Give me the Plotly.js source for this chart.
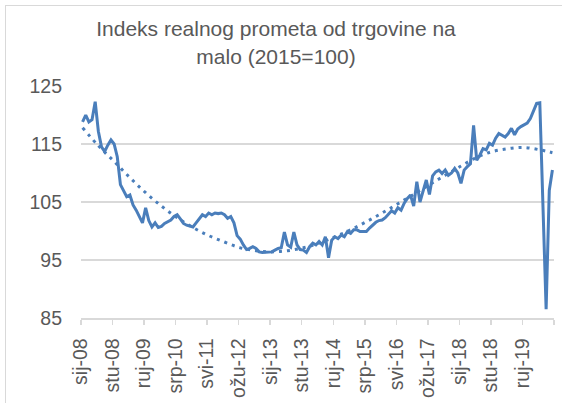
<!DOCTYPE html>
<html>
<head>
<meta charset="utf-8">
<script src="https://cdn.plot.ly/plotly-3.0.1.min.js"></script>
<style>
html,body{margin:0;padding:0;background:#fff;}
#wrap{position:relative;width:562px;height:403px;overflow:hidden;}
#chart{width:562px;height:403px;}
#frame{position:absolute;left:5px;top:5px;width:620px;height:460px;border:1px solid #d9d9d9;pointer-events:none;}
</style>
</head>
<body>
<div id="wrap"><div id="chart"></div><div id="frame"></div></div>
<script>
// Monthly index of real retail trade turnover, Jan 2008 - Jun 2020 (2015=100)
const values = [
  // 2008
  118.8, 120.0, 118.8, 119.2, 122.3, 117.2, 114.5, 113.7, 114.8, 115.7, 115.0, 112.8,
  // 2009
  108.0, 106.8, 105.9, 106.2, 104.5, 103.6, 102.5, 101.4, 104.0, 101.8, 100.7, 101.4,
  // 2010
  100.6, 100.8, 101.3, 101.6, 101.9, 102.5, 102.8, 102.1, 101.3, 101.0, 100.8, 100.7,
  // 2011
  101.4, 102.2, 102.8, 102.5, 103.1, 102.8, 103.1, 103.0, 103.1, 102.8, 102.2, 102.5,
  // 2012
  101.4, 99.2, 98.6, 97.6, 96.8, 97.0, 97.3, 97.0, 96.4, 96.3, 96.3, 96.4,
  // 2013
  96.4, 96.7, 97.0, 97.1, 99.8, 97.6, 97.2, 99.8, 97.6, 96.8, 96.7, 96.3,
  // 2014
  97.3, 97.9, 97.6, 98.2, 97.6, 99.0, 95.4, 98.4, 99.0, 98.7, 99.3, 99.0,
  // 2015
  99.9, 99.6, 100.2, 100.2, 99.9, 99.9, 99.9, 100.5, 101.0, 101.5, 101.8, 101.9,
  // 2016
  102.3, 103.0, 103.5, 103.1, 104.0, 103.6, 104.8, 105.6, 106.2, 104.3, 108.5, 105.0,
  // 2017
  107.0, 108.8, 106.3, 109.5, 110.2, 110.5, 109.9, 110.5, 109.6, 110.0, 110.8, 110.0,
  // 2018
  108.2, 110.5, 111.1, 111.6, 118.2, 112.2, 113.1, 114.2, 114.0, 115.1, 114.8, 116.0,
  // 2019
  116.8, 116.5, 116.2, 116.8, 117.7, 116.6, 117.6, 118.0, 118.3, 118.6, 119.4, 120.6,
  // 2020
  122.0, 122.1, 104.0, 86.5, 107.0, 110.5
];

// Trend line (dotted) at these month positions
const trendMonths = [0, 5, 10, 15, 20, 25, 30, 35, 40, 45, 50, 55, 60, 65, 70, 75, 80, 85, 90, 95, 100, 105, 110, 115, 120, 125, 130, 135, 140, 145, 149];
const trendValues = [117.8, 114.7, 112.0, 109.2, 106.6, 104.3, 102.3, 100.6, 99.2, 98.1, 97.1, 96.6, 96.4, 96.6, 97.1, 97.9, 99.0, 100.2, 101.6, 103.1, 104.7, 106.3, 108.0, 109.6, 111.2, 112.7, 113.7, 114.2, 114.4, 114.0, 113.5];

const tickLabels = ['sij-08','stu-08','ruj-09','srp-10','svi-11','ožu-12','sij-13','stu-13','ruj-14','srp-15','svi-16','ožu-17','sij-18','stu-18','ruj-19'];
const labelEvery = 10;
const yTicks = [85, 95, 105, 115, 125];

const monthIdx = values.map((_, i) => i);
const n = values.length;

// tick marks sit on category boundaries every 10 months, plus the closing one
const tickVals = [];
const tickText = [];
for (let k = 0; k * labelEvery <= n; k++) {
  tickVals.push(k * labelEvery - 0.5);
  tickText.push(tickLabels[k] !== undefined ? tickLabels[k] : '');
}

const blue = '#4a7ebb';
const grey = '#595959';
const font = 'Liberation Sans, Arial, sans-serif';

const traces = [
  {
    x: trendMonths, y: trendValues, type: 'scatter', mode: 'lines',
    line: {color: blue, width: 3, dash: '3px,5px', shape: 'spline', smoothing: 1},
    hoverinfo: 'skip'
  },
  {
    x: monthIdx, y: values, type: 'scatter', mode: 'lines',
    line: {color: blue, width: 3}
  }
];

const layout = {
  width: 562, height: 403,
  margin: {l: 81, r: 8, t: 86, b: 85, pad: 0},
  paper_bgcolor: '#ffffff', plot_bgcolor: '#ffffff',
  showlegend: false, hovermode: false,
  font: {family: font, color: grey},
  title: {
    text: 'Indeks realnog prometa od trgovine na<br>malo (2015=100)',
    font: {family: font, size: 21, color: grey},
    x: 276 / 562, xref: 'container', xanchor: 'center',
    y: 0.910, yref: 'container', yanchor: 'top'
  },
  xaxis: {
    type: 'linear', range: [-0.5, n - 0.5],
    tickmode: 'array', tickvals: tickVals, ticktext: tickText,
    tickangle: -90, ticks: 'outside', ticklen: 5, tickwidth: 1.5, tickcolor: '#d9d9d9',
    showline: true, linecolor: '#d9d9d9', linewidth: 1.5,
    showgrid: false, zeroline: false,
    tickfont: {family: font, size: 19.5, color: grey},
    ticklabelstandoff: 6
  },
  yaxis: {
    range: [85, 125], tickmode: 'array', tickvals: yTicks,
    showgrid: true, gridcolor: '#d9d9d9', gridwidth: 1.5,
    showline: false, zeroline: false, ticks: '',
    tickfont: {family: font, size: 19.5, color: grey},
    ticklabelstandoff: 18
  }
};

Plotly.newPlot('chart', traces, layout, {staticPlot: true, displayModeBar: false});
</script>
</body>
</html>
